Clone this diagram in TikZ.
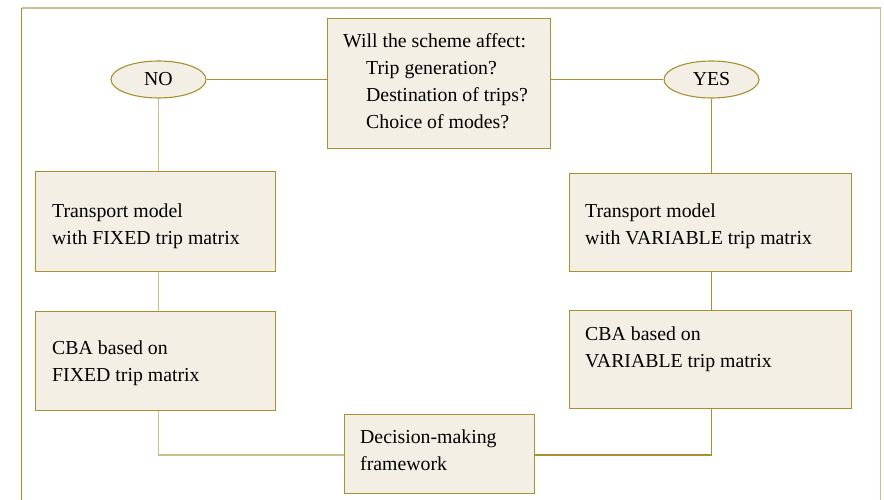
\documentclass[tikz,border=0pt]{standalone}
\usepackage{fontspec}
\setmainfont{Liberation Serif}
\usetikzlibrary{shapes.geometric}
\definecolor{boxfill}{HTML}{F3EFE5}
\definecolor{gold}{HTML}{A88F2F}
\definecolor{goldlight}{HTML}{CDBE8E}
\begin{document}
\begin{tikzpicture}[x=1pt,y=-1pt,
  box/.style={draw=gold, fill=boxfill, line width=1.1pt, rectangle, anchor=north west, inner sep=0pt},
  oval/.style={ellipse, draw=gold, fill=boxfill, line width=1.1pt, minimum width=95pt, minimum height=37pt, inner sep=0pt, font=\fontsize{19.8}{23}\selectfont},
  txt/.style={anchor=base west, inner sep=0pt, font=\fontsize{19.8}{23}\selectfont},
  link/.style={draw=gold, line width=1.2pt},
  linklight/.style={draw=goldlight, line width=1.2pt}]
\useasboundingbox (0,0) rectangle (884,500);

% outer frame, open at the bottom
\draw[gold, line width=1.2pt] (21.5,500) -- (21.5,8);
\draw[goldlight, line width=1.2pt] (21.5,8) -- (880.5,8) -- (880.5,500);

% question box
\node[box, minimum width=223pt, minimum height=130pt] (q) at (327,18) {};
\node[txt] (q1) at (343,48) {Will the scheme affect:};
\node[txt] (q2) at (366,75) {Trip generation?};
\node[txt] (q3) at (366,102) {Destination of trips?};
\node[txt] (q4) at (366,129) {Choice of modes?};

% answers
\node[oval] (no) at (158.5,79.5) {NO};
\node[oval] (yes) at (711.5,79.5) {YES};

% left branch boxes
\node[box, minimum width=240pt, minimum height=100pt] (fixmodel) at (35,171) {};
\node[txt] (fm1) at (52,217) {Transport model};
\node[txt] (fm2) at (52,244) {with FIXED trip matrix};
\node[box, minimum width=240pt, minimum height=99pt] (fixcba) at (35,311) {};
\node[txt] (fc1) at (52,354) {CBA based on};
\node[txt] (fc2) at (52,381) {FIXED trip matrix};

% right branch boxes
\node[box, minimum width=282pt, minimum height=98pt] (varmodel) at (569,173) {};
\node[txt] (vm1) at (585,217) {Transport model};
\node[txt] (vm2) at (585,244) {with VARIABLE trip matrix};
\node[box, minimum width=282pt, minimum height=98pt] (varcba) at (569,310) {};
\node[txt] (vc1) at (585,340) {CBA based on};
\node[txt] (vc2) at (585,367) {VARIABLE trip matrix};

% decision box
\node[box, minimum width=190pt, minimum height=79pt] (dec) at (344,414) {};
\node[txt] (d1) at (360,443) {Decision-making};
\node[txt] (d2) at (360,470) {framework};

% connectors
\draw[link] (no.east) -- (q.west |- no.east);
\draw[link] (q.east |- yes.west) -- (yes.west);
\draw[linklight] (no.south) -- (no.south |- fixmodel.north);
\draw[linklight] (no.south |- fixmodel.south) -- (no.south |- fixcba.north);
\draw[linklight] (no.south |- fixcba.south) |- (dec.west |- 0,455);
\draw[link] (yes.south) -- (yes.south |- varmodel.north);
\draw[link] (yes.south |- varmodel.south) -- (yes.south |- varcba.north);
\draw[link] (yes.south |- varcba.south) |- (dec.east |- 0,455);
\end{tikzpicture}
\end{document}
